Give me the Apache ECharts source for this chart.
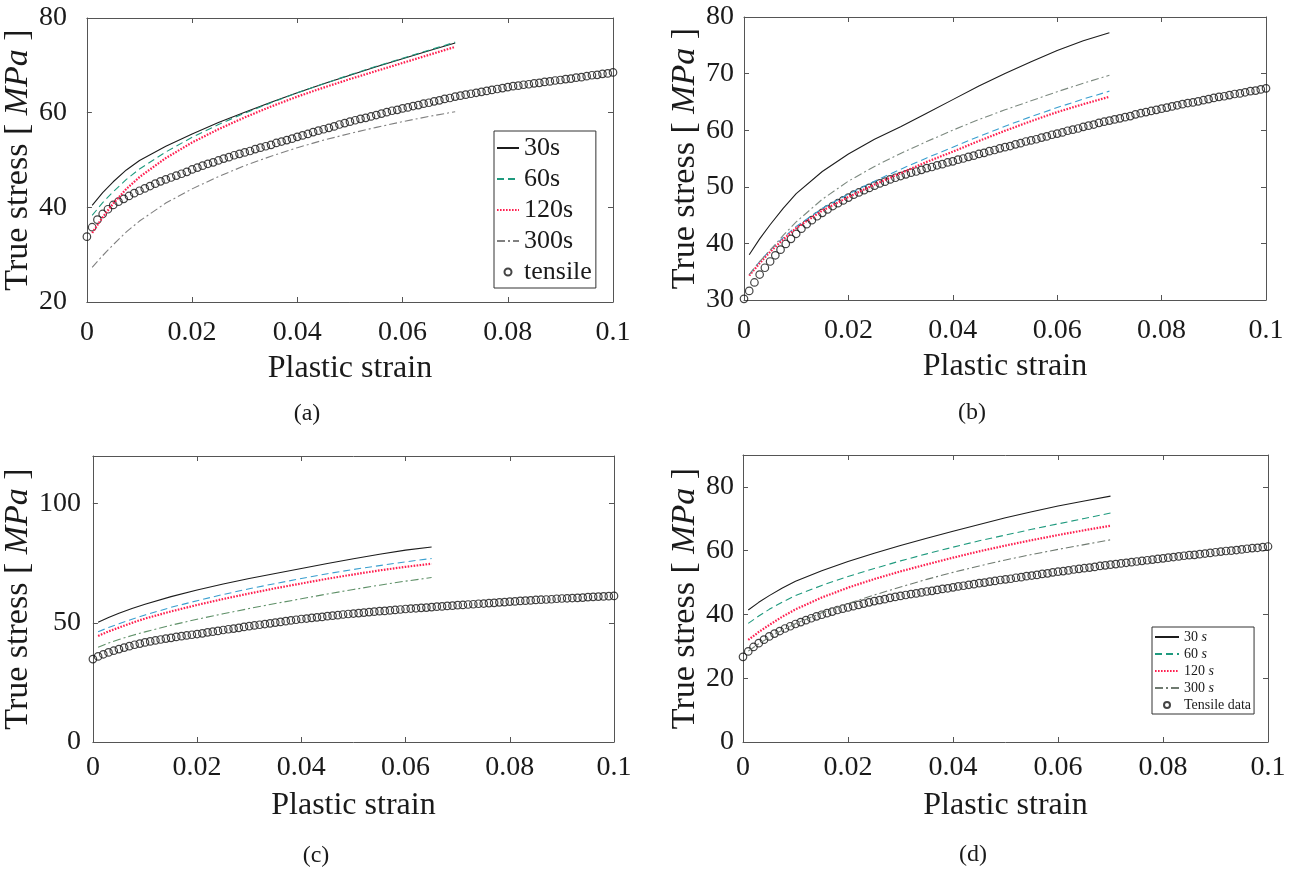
<!DOCTYPE html>
<html>
<head>
<meta charset="utf-8">
<script src="https://cdn.jsdelivr.net/npm/echarts@6/dist/echarts.min.js"></script>
<style>
  html, body { margin: 0; padding: 0; background: #fff; }
  #main { width: 1292px; height: 873px; }
</style>
</head>
<body>
<div id="main"></div>
<script>
// ---- data ----
const xTicks = [0, 0.02, 0.04, 0.06, 0.08, 0.1];

// strain points of the simulated curves
const strainLines = [0.001, 0.003, 0.005, 0.0075, 0.01, 0.015, 0.02, 0.025, 0.03, 0.035, 0.04, 0.045, 0.05, 0.055, 0.06, 0.065, 0.07];
const strainLinesC = [0.001, 0.003, 0.005, 0.0075, 0.01, 0.015, 0.02, 0.025, 0.03, 0.035, 0.04, 0.045, 0.05, 0.055, 0.06, 0.065];

// strain points of the tensile test markers
const strainTensile = [
  0,
  0.001, 0.002, 0.003, 0.004, 0.005, 0.006, 0.007, 0.008, 0.009, 0.010,
  0.011, 0.012, 0.013, 0.014, 0.015, 0.016, 0.017, 0.018, 0.019, 0.020,
  0.021, 0.022, 0.023, 0.024, 0.025, 0.026, 0.027, 0.028, 0.029, 0.030,
  0.031, 0.032, 0.033, 0.034, 0.035, 0.036, 0.037, 0.038, 0.039, 0.040,
  0.041, 0.042, 0.043, 0.044, 0.045, 0.046, 0.047, 0.048, 0.049, 0.050,
  0.051, 0.052, 0.053, 0.054, 0.055, 0.056, 0.057, 0.058, 0.059, 0.060,
  0.061, 0.062, 0.063, 0.064, 0.065, 0.066, 0.067, 0.068, 0.069, 0.070,
  0.071, 0.072, 0.073, 0.074, 0.075, 0.076, 0.077, 0.078, 0.079, 0.080,
  0.081, 0.082, 0.083, 0.084, 0.085, 0.086, 0.087, 0.088, 0.089, 0.090,
  0.091, 0.092, 0.093, 0.094, 0.095, 0.096, 0.097, 0.098, 0.099, 0.100
];

// (a)
const a30  = [40.4, 43.1, 45.4, 47.9, 49.9, 52.9, 55.5, 57.9, 60.1, 62.2, 64.2, 66.1, 67.9, 69.7, 71.4, 73.1, 74.7];
const a60  = [38.3, 41.0, 43.3, 45.9, 48.1, 51.7, 54.8, 57.5, 59.9, 62.1, 64.2, 66.1, 68.0, 69.8, 71.5, 73.2, 74.9];
const a120 = [34.6, 37.9, 40.8, 43.9, 46.4, 50.4, 53.7, 56.5, 59.0, 61.3, 63.4, 65.3, 67.1, 68.8, 70.5, 72.2, 73.9];
const a300 = [27.3, 29.8, 32.1, 34.8, 37.1, 40.9, 43.9, 46.5, 48.8, 50.8, 52.6, 54.2, 55.6, 56.9, 58.1, 59.2, 60.2];
const aTensile = [
  33.8,
  35.8, 37.4, 38.6, 39.6, 40.5, 41.2, 41.8, 42.4, 43.0, 43.5,
  44.0, 44.5, 45.0, 45.5, 45.9, 46.3, 46.7, 47.1, 47.5, 48.0,
  48.4, 48.8, 49.2, 49.5, 49.9, 50.3, 50.6, 51.0, 51.3, 51.6,
  51.9, 52.3, 52.6, 52.9, 53.2, 53.6, 53.9, 54.2, 54.5, 54.9,
  55.2, 55.5, 55.9, 56.2, 56.5, 56.8, 57.1, 57.5, 57.8, 58.1,
  58.4, 58.7, 58.9, 59.2, 59.5, 59.8, 60.1, 60.4, 60.6, 60.9,
  61.1, 61.4, 61.6, 61.9, 62.1, 62.4, 62.6, 62.9, 63.1, 63.4,
  63.6, 63.8, 64.0, 64.2, 64.4, 64.6, 64.8, 65.0, 65.2, 65.4,
  65.6, 65.7, 65.9, 66.0, 66.2, 66.3, 66.5, 66.6, 66.8, 66.9,
  67.1, 67.2, 67.4, 67.5, 67.7, 67.9, 68.0, 68.2, 68.3, 68.5
];

// (b)
const b30  = [38.0, 40.8, 43.3, 46.2, 48.8, 52.7, 55.8, 58.4, 60.6, 63.0, 65.4, 67.8, 70.0, 72.1, 74.1, 75.8, 77.2];
const b60  = [34.5, 36.8, 38.8, 41.0, 43.0, 46.2, 48.7, 51.0, 53.1, 55.1, 57.0, 58.9, 60.7, 62.4, 64.0, 65.5, 66.9];
const b120 = [34.3, 36.5, 38.5, 40.7, 42.7, 45.8, 48.2, 50.4, 52.4, 54.4, 56.2, 58.1, 59.9, 61.6, 63.2, 64.6, 65.9];
const b300 = [34.5, 36.8, 38.8, 41.4, 43.8, 47.8, 51.0, 53.6, 55.9, 58.0, 60.0, 61.9, 63.6, 65.2, 66.8, 68.3, 69.7];
const bTensile = [
  30.2,
  31.6, 33.1, 34.5, 35.7, 36.8, 37.9, 38.9, 39.9, 40.8, 41.7,
  42.6, 43.4, 44.1, 44.8, 45.4, 46.0, 46.6, 47.1, 47.6, 48.1,
  48.6, 49.0, 49.4, 49.8, 50.2, 50.6, 50.9, 51.3, 51.6, 51.9,
  52.2, 52.5, 52.7, 53.0, 53.3, 53.5, 53.8, 54.0, 54.3, 54.5,
  54.8, 55.0, 55.3, 55.5, 55.8, 56.0, 56.3, 56.5, 56.8, 57.0,
  57.2, 57.5, 57.7, 58.0, 58.2, 58.4, 58.7, 58.9, 59.2, 59.4,
  59.6, 59.9, 60.1, 60.3, 60.6, 60.8, 61.0, 61.3, 61.5, 61.7,
  61.9, 62.1, 62.3, 62.5, 62.8, 63.0, 63.2, 63.4, 63.6, 63.8,
  64.0, 64.2, 64.4, 64.6, 64.8, 64.9, 65.1, 65.3, 65.5, 65.7,
  65.9, 66.0, 66.2, 66.4, 66.5, 66.7, 66.9, 67.0, 67.2, 67.4
];

// (c)
const c30  = [50.2, 52.2, 54.0, 56.0, 57.8, 61.0, 63.8, 66.3, 68.6, 70.7, 72.8, 74.9, 76.9, 78.8, 80.5, 81.8];
const c60  = [46.3, 48.0, 49.6, 51.5, 53.3, 56.5, 59.3, 61.9, 64.3, 66.5, 68.6, 70.6, 72.4, 74.0, 75.6, 77.0];
const c120 = [44.5, 46.4, 48.0, 50.0, 51.8, 54.8, 57.5, 60.0, 62.3, 64.5, 66.5, 68.5, 70.3, 72.0, 73.5, 74.8];
const c300 = [39.8, 41.5, 43.0, 44.7, 46.2, 49.0, 51.5, 53.8, 56.0, 58.1, 60.1, 62.1, 64.0, 65.8, 67.5, 69.0];
const cTensile = [
  34.8,
  35.9, 36.8, 37.6, 38.3, 39.0, 39.6, 40.2, 40.8, 41.3, 41.8,
  42.2, 42.6, 43.0, 43.4, 43.7, 44.1, 44.4, 44.7, 45.0, 45.3,
  45.6, 46.0, 46.3, 46.6, 47.0, 47.3, 47.6, 47.9, 48.3, 48.6,
  48.9, 49.2, 49.5, 49.8, 50.1, 50.4, 50.7, 51.0, 51.3, 51.6,
  51.8, 52.1, 52.3, 52.5, 52.8, 53.0, 53.2, 53.5, 53.7, 53.9,
  54.1, 54.3, 54.5, 54.7, 54.9, 55.0, 55.2, 55.4, 55.6, 55.8,
  56.0, 56.1, 56.3, 56.4, 56.6, 56.8, 56.9, 57.1, 57.2, 57.4,
  57.5, 57.7, 57.8, 58.0, 58.1, 58.3, 58.4, 58.6, 58.7, 58.9,
  59.0, 59.2, 59.3, 59.4, 59.6, 59.7, 59.8, 59.9, 60.1, 60.2,
  60.3, 60.4, 60.5, 60.6, 60.8, 60.9, 61.0, 61.1, 61.2, 61.3
];

// (d)
const d30  = [41.4, 43.8, 45.9, 48.3, 50.4, 53.7, 56.6, 59.2, 61.6, 63.9, 66.1, 68.2, 70.3, 72.2, 74.0, 75.6, 77.1];
const d60  = [37.2, 39.5, 41.6, 43.9, 45.9, 49.1, 51.9, 54.4, 56.8, 59.0, 61.1, 63.1, 64.9, 66.7, 68.4, 70.1, 71.8];
const d120 = [32.0, 34.5, 36.7, 39.3, 41.6, 45.3, 48.4, 51.1, 53.5, 55.7, 57.8, 59.8, 61.6, 63.3, 64.9, 66.4, 67.8];
const d300 = [28.5, 30.8, 32.8, 35.1, 37.1, 40.5, 43.4, 46.1, 48.6, 51.0, 53.2, 55.2, 57.1, 58.8, 60.4, 61.9, 63.4];
const dTensile = [
  26.7,
  28.4, 29.8, 31.0, 32.1, 33.1, 34.0, 34.8, 35.6, 36.3, 37.0,
  37.6, 38.2, 38.8, 39.4, 39.9, 40.4, 40.9, 41.4, 41.8, 42.2,
  42.6, 43.0, 43.4, 43.8, 44.2, 44.5, 44.8, 45.2, 45.5, 45.8,
  46.1, 46.4, 46.6, 46.9, 47.2, 47.4, 47.7, 48.0, 48.2, 48.5,
  48.8, 49.0, 49.3, 49.5, 49.8, 50.0, 50.3, 50.5, 50.8, 51.0,
  51.2, 51.5, 51.7, 52.0, 52.2, 52.4, 52.7, 52.9, 53.2, 53.4,
  53.6, 53.8, 54.1, 54.3, 54.5, 54.7, 54.9, 55.2, 55.4, 55.6,
  55.8, 56.0, 56.2, 56.4, 56.6, 56.8, 57.0, 57.2, 57.4, 57.6,
  57.8, 58.0, 58.2, 58.4, 58.6, 58.7, 58.9, 59.1, 59.3, 59.5,
  59.7, 59.9, 60.0, 60.2, 60.4, 60.6, 60.8, 60.9, 61.1, 61.3
];

const namesA = ['30s', '60s', '120s', '300s', 'tensile'];
const namesD = ['30 s', '60 s', '120 s', '300 s', 'Tensile data'];
const panelLabels = ['(a)', '(b)', '(c)', '(d)'];

// ---- styling ----
const FONT = '"Liberation Serif", "Times New Roman", serif';
const AXIS = '#555555';
const TXT = '#1a1a1a';

function zip(xs, ys) {
  return ys.map((y, i) => [xs[i], y]);
}

const panels = [
  {
    grid: {left: 85, top: 18, width: 528, height: 284},
    y: {min: 20, max: 80, interval: 20, margin: 20, nameGap: 46, showMax: true},
    xLabelMargin: 17, xNameGap: 51,
    names: namesA, x: strainLines,
    lines: [a30, a60, a120, a300], tensile: aTensile,
    colors: ['#1c1c1c', '#1f9a7e', '#ff2050', '#808080']
  },
  {
    grid: {left: 744, top: 17, width: 522, height: 283},
    y: {min: 30, max: 80, interval: 10, margin: 10, nameGap: 42, showMax: true},
    xLabelMargin: 17, xNameGap: 51,
    names: namesA, x: strainLines,
    lines: [b30, b60, b120, b300], tensile: bTensile,
    colors: ['#1c1c1c', '#3a9fcf', '#ff2050', '#7d8a80']
  },
  {
    grid: {left: 91, top: 456, width: 523, height: 286},
    y: {min: 0, max: 120, interval: 50, margin: 12, nameGap: 55, showMax: false},
    xLabelMargin: 12, xNameGap: 48,
    names: namesA, x: strainLinesC,
    lines: [c30, c60, c120, c300], tensile: cTensile,
    colors: ['#1c1c1c', '#3a9fcf', '#ff2050', '#5f9068']
  },
  {
    grid: {left: 743, top: 455, width: 525, height: 287},
    y: {min: 0, max: 90, interval: 20, margin: 9, nameGap: 41, showMax: false},
    xLabelMargin: 12, xNameGap: 48,
    names: namesD, x: strainLines,
    lines: [d30, d60, d120, d300], tensile: dTensile,
    colors: ['#1c1c1c', '#1f9a7e', '#ff2050', '#6f7a70']
  }
];

const dashes = ['solid', [7, 4], [1.6, 1.4], [8, 3, 2, 3]];
const widths = [1.1, 1.1, 2.2, 1.1];

const grids = [], xAxes = [], yAxes = [], series = [];
const lineX = {show: true, onZero: false, lineStyle: {color: AXIS, width: 1}};
const tick = {show: true, inside: true, length: 5, lineStyle: {color: AXIS}};

panels.forEach((p, i) => {
  grids.push(Object.assign({containLabel: false}, p.grid));
  xAxes.push({
    gridIndex: i, type: 'value', position: 'bottom', min: 0, max: 0.1, interval: 0.02,
    axisLine: lineX, axisTick: tick, splitLine: {show: false},
    axisLabel: {
      margin: p.xLabelMargin, fontSize: 28, fontFamily: FONT, color: TXT,
      formatter: v => String(+v.toFixed(2))
    },
    name: 'Plastic strain', nameLocation: 'middle', nameGap: p.xNameGap,
    nameTextStyle: {fontSize: 32, fontFamily: FONT, color: TXT}
  });
  xAxes.push({
    gridIndex: i, type: 'value', position: 'top', min: 0, max: 0.1, interval: 0.02,
    axisLine: lineX, axisTick: tick, axisLabel: {show: false}, splitLine: {show: false}
  });
  yAxes.push({
    gridIndex: i, type: 'value', position: 'left',
    min: p.y.min, max: p.y.max, interval: p.y.interval,
    axisLine: lineX, axisTick: tick, splitLine: {show: false},
    axisLabel: {
      margin: p.y.margin, fontSize: 28, fontFamily: FONT, color: TXT,
      showMaxLabel: p.y.showMax
    },
    name: 'True stress [ {i|MPa} ]', nameLocation: 'middle', nameGap: p.y.nameGap, nameRotate: 90,
    nameTextStyle: {
      fontSize: 34, fontFamily: FONT, color: TXT,
      rich: {i: {fontSize: 34, fontFamily: FONT, fontStyle: 'italic', color: TXT}}
    }
  });
  yAxes.push({
    gridIndex: i, type: 'value', position: 'right',
    min: p.y.min, max: p.y.max, interval: p.y.interval,
    axisLine: lineX, axisTick: tick, axisLabel: {show: false}, splitLine: {show: false}
  });

  p.lines.forEach((ys, k) => {
    series.push({
      name: p.names[k], type: 'line', xAxisIndex: 2 * i, yAxisIndex: 2 * i,
      data: zip(p.x, ys), symbol: 'none', showSymbol: false,
      smooth: false, silent: true,
      lineStyle: {color: p.colors[k], width: widths[k], type: dashes[k]},
      itemStyle: {color: p.colors[k]}
    });
  });
  series.push({
    name: p.names[4], type: 'scatter', xAxisIndex: 2 * i, yAxisIndex: 2 * i,
    data: zip(strainTensile, p.tensile), symbol: 'circle', symbolSize: 7.5, silent: true,
    itemStyle: {color: 'rgba(0,0,0,0)', borderColor: '#151515', borderWidth: 1.2}
  });
});

// legend entries: hide the dot in the middle of line icons
function legendData(names) {
  return names.map((n, k) => k < 4 ? {name: n, itemStyle: {opacity: 0}} : {name: n});
}

const chart = echarts.init(document.getElementById('main'), null, {renderer: 'canvas'});
chart.setOption({
  backgroundColor: '#fff',
  animation: false,
  grid: grids,
  xAxis: xAxes,
  yAxis: yAxes,
  legend: [
    {
      data: legendData(namesA), orient: 'vertical', left: 494, top: 131,
      itemWidth: 22, itemHeight: 7, itemGap: 5, padding: [4, 4, 3, 2],
      borderColor: '#333', borderWidth: 1, backgroundColor: '#fff',
      selectedMode: false,
      textStyle: {fontFamily: FONT, fontSize: 26, lineHeight: 26, color: TXT}
    },
    {
      data: legendData(namesD), orient: 'vertical', left: 1152, top: 627,
      itemWidth: 24, itemHeight: 6, itemGap: 3, padding: [3, 3, 2, 2],
      borderColor: '#333', borderWidth: 1, backgroundColor: '#fff',
      selectedMode: false,
      formatter: name => name.replace(/ s$/, ' {i|s}'),
      textStyle: {
        fontFamily: FONT, fontSize: 14, lineHeight: 14, color: TXT,
        rich: {i: {fontFamily: FONT, fontSize: 14, fontStyle: 'italic', color: TXT}}
      }
    }
  ],
  graphic: [
    {type: 'text', x: 307, y: 414, style: {text: panelLabels[0], font: '24px ' + FONT, fill: TXT, align: 'center', verticalAlign: 'middle'}},
    {type: 'text', x: 972, y: 413, style: {text: panelLabels[1], font: '24px ' + FONT, fill: TXT, align: 'center', verticalAlign: 'middle'}},
    {type: 'text', x: 316, y: 856, style: {text: panelLabels[2], font: '24px ' + FONT, fill: TXT, align: 'center', verticalAlign: 'middle'}},
    {type: 'text', x: 973, y: 855, style: {text: panelLabels[3], font: '24px ' + FONT, fill: TXT, align: 'center', verticalAlign: 'middle'}}
  ],
  series: series
});
</script>
</body>
</html>
